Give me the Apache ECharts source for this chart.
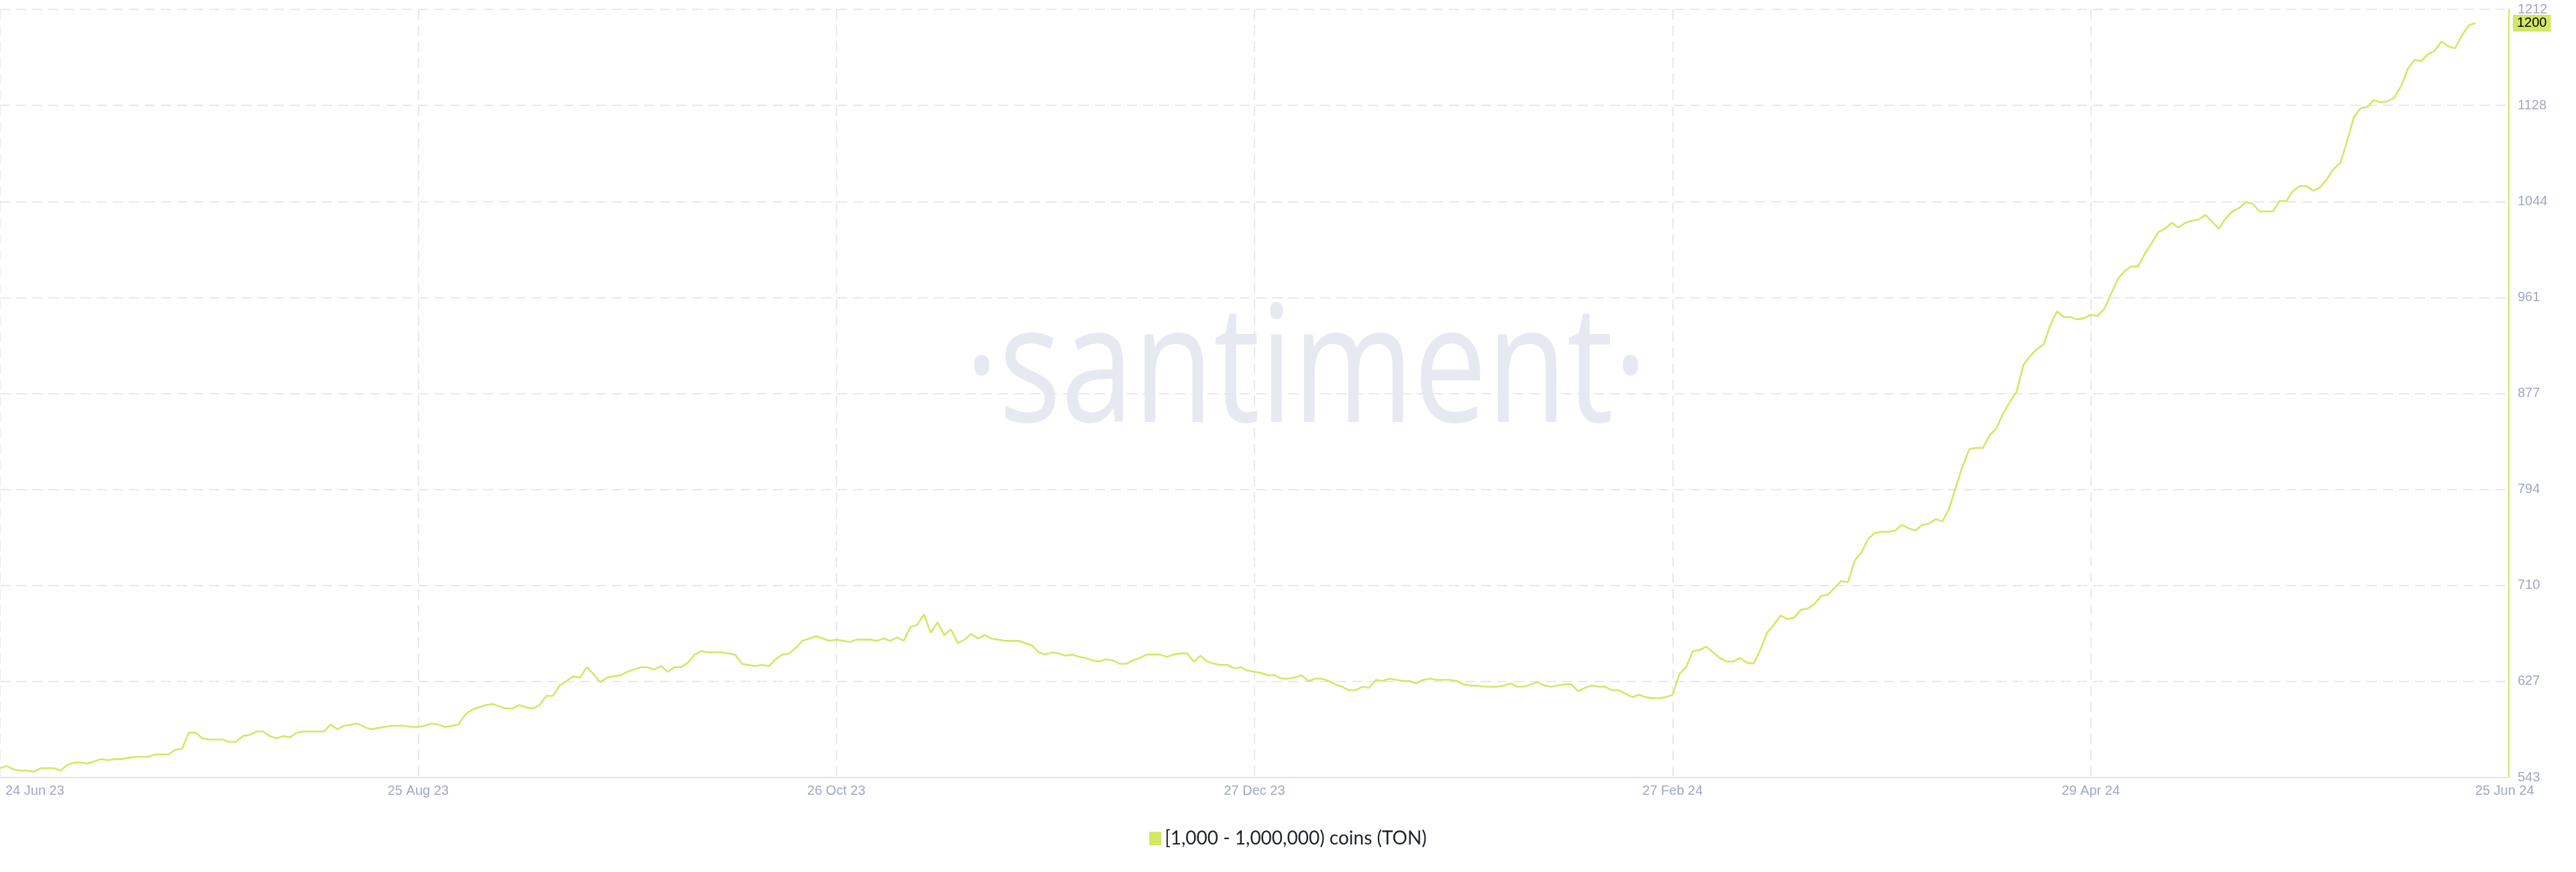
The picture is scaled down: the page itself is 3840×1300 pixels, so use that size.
<!DOCTYPE html>
<html>
<head>
<meta charset="utf-8">
<script src="https://cdn.jsdelivr.net/npm/echarts@6/dist/echarts.min.js"></script>
<style>
html,body{margin:0;padding:0;background:#ffffff;}
#chart{width:3840px;height:1300px;}
</style>
</head>
<body>
<div id="chart"></div>
<script>
// ---------- data ----------
const seriesName = '[1,000 - 1,000,000) coins (TON)';
const startDate = '2023-06-24'; // first daily value
const values = [
  551, 553, 550, 549, 549, 548, 551, 551, 551, 549,
  554, 556, 556, 555, 557, 559, 558, 559, 559, 560,
  561, 561, 561, 563, 563, 563, 567, 568, 582, 582,
  577, 576, 576, 576, 574, 574, 579, 580, 583, 583,
  579, 577, 579, 578, 582, 583, 583, 583, 583, 589,
  585, 588, 589, 590, 587, 585, 586, 587, 588, 588,
  588, 587, 587, 588, 590, 589, 587, 588, 589, 598,
  602, 604, 606, 607, 605, 603, 603, 606, 604, 603,
  606, 614, 614, 623, 627, 631, 630, 639, 633, 626,
  630, 631, 632, 635, 637, 639,
  639, 637, 640, 635, 639, 639, 643, 650, 653, 652,
  652, 652, 651, 650, 642, 641, 640, 641, 640, 646,
  650, 651, 656, 662, 664, 666, 664, 662, 663, 662,
  661, 663, 663, 663, 662, 664, 662, 665, 662, 674,
  676, 685, 669, 678, 667, 672, 660, 663, 668, 664,
  667, 664, 663, 662, 662, 662, 660, 658, 652, 650,
  652, 651, 649, 650, 648, 647, 645, 644, 646, 645,
  642, 642, 645, 647, 650, 650, 650, 648, 650, 651,
  651, 644, 649, 644, 642, 641, 641, 638, 639, 636,
  635, 634, 632, 632, 629,
  629, 630, 632, 627, 629, 629, 627, 624, 622, 619,
  619, 622, 621, 628, 627, 629, 628, 627, 627, 625,
  628, 629, 628, 628, 628, 627, 624, 623, 623, 622,
  622, 622, 623, 625, 622, 622, 624, 626, 623, 622,
  623, 624, 624, 618, 621, 623, 622, 622, 619, 619,
  616, 613, 615, 613, 612, 612, 613, 615, 633, 639,
  653, 654, 657, 652, 647, 644, 644, 647, 643, 642,
  654, 669, 676, 684, 681, 682, 689, 690, 694, 701,
  702, 708, 714, 713, 732, 739, 751, 756, 757, 757,
  758, 763, 760, 758, 763, 764,
  768, 766, 777, 796, 814, 829, 830, 830, 841, 847, 860, 870,
  879, 902, 910, 916, 920, 937, 949, 944, 944, 942,
  943, 946, 945, 951, 964, 977, 984, 988, 988, 999,
  1008, 1018, 1021, 1026, 1022, 1026, 1028, 1029, 1033, 1027,
  1021, 1030, 1036, 1039, 1044, 1043, 1036, 1036, 1036, 1045,
  1045, 1054, 1058, 1058, 1054, 1057, 1064, 1073, 1078, 1097,
  1118, 1126, 1127, 1133, 1131, 1132, 1135, 1145, 1160, 1168,
  1167, 1173, 1176, 1184, 1180, 1178, 1189, 1198, 1200
];
const xLabelDates = ['2023-06-24', '2023-08-25', '2023-10-26', '2023-12-27', '2024-02-27', '2024-04-29', '2024-06-25'];
const xLabelTexts = ['24 Jun 23', '25 Aug 23', '26 Oct 23', '27 Dec 23', '27 Feb 24', '29 Apr 24', '25 Jun 24'];
const xGridDates = ['2023-06-24', '2023-08-25', '2023-10-26', '2023-12-27', '2024-02-27', '2024-04-29'];
const xAxisMin = '2023-06-24';
const xAxisMax = '2024-06-30';
const yMin = 543;
const yMax = 1212;
const yTickValues = [543, 626.625, 710.25, 793.875, 877.5, 961.125, 1044.75, 1128.375, 1212];
const yTickLabels = ['543', '627', '710', '794', '877', '961', '1044', '1128', '1212'];

// ---------- build ----------
const DAY = 86400000;
const t0 = Date.parse(startDate);
const seriesData = values.map((v, i) => [t0 + i * DAY, v]);
const lastValue = values[values.length - 1];
const lineColor = '#d2e764';
const labelColor = '#9fa7c4';
const gridColor = '#e7e8ee';
const labelFont = '"Liberation Sans", Arial, sans-serif';

const chart = echarts.init(document.getElementById('chart'), null, {renderer: 'canvas'});
const option = {
  animation: false,
  backgroundColor: '#ffffff',
  grid: {left: 0, right: 100, top: 14, bottom: 141, containLabel: false, outerBoundsMode: 'none'},
  graphic: [{
    type: 'text',
    x: 1947,
    y: 560,
    scaleX: 0.8,
    z: -10,
    silent: true,
    style: {
      text: '\u00b7santiment\u00b7',
      fill: '#e6e9f2',
      fontFamily: '"Open Sans"',
      fontSize: 243,
      align: 'center',
      verticalAlign: 'middle'
    }
  }],
  legend: {
    show: true,
    left: 'center',
    top: 1231,
    itemWidth: 18,
    itemHeight: 20,
    icon: 'rect',
    data: [{name: seriesName, icon: 'rect'}],
    textStyle: {fontSize: 28, fontFamily: 'Lato', color: '#1e222b'}
  },
  xAxis: {
    type: 'value',
    min: Date.parse(xAxisMin),
    max: Date.parse(xAxisMax),
    axisLine: {show: true, onZero: false, lineStyle: {color: '#e6e6ea', width: 2}},
    axisTick: {show: false, customValues: xGridDates.map(d => Date.parse(d))},
    splitLine: {show: true, lineStyle: {color: gridColor, width: 2, type: [15, 9]}},
    axisLabel: {
      customValues: xLabelDates.map(d => Date.parse(d)),
      alignMinLabel: 'left',
      alignMaxLabel: 'left',
      margin: 10,
      color: labelColor,
      fontSize: 20,
      fontFamily: labelFont,
      formatter: function (v) {
        const i = xLabelDates.findIndex(d => Math.abs(Date.parse(d) - v) < DAY / 2);
        if (i === 0) return '{first|' + xLabelTexts[i] + '}';
        return i >= 0 ? xLabelTexts[i] : '';
      },
      rich: {
        first: {padding: [0, 0, 0, 8], color: labelColor, fontSize: 20, fontFamily: labelFont}
      }
    }
  },
  yAxis: {
    type: 'value',
    position: 'right',
    min: yMin,
    max: yMax,
    axisLine: {show: true, lineStyle: {color: lineColor, width: 2}},
    axisTick: {show: false, customValues: yTickValues},
    splitLine: {show: true, lineStyle: {color: gridColor, width: 2, type: [15, 9]}},
    axisLabel: {
      customValues: yTickValues,
      margin: 13,
      color: labelColor,
      fontSize: 20,
      fontFamily: labelFont,
      formatter: function (v) {
        let best = 0;
        for (let i = 1; i < yTickValues.length; i++) {
          if (Math.abs(yTickValues[i] - v) < Math.abs(yTickValues[best] - v)) best = i;
        }
        return yTickLabels[best];
      }
    }
  },
  series: [{
    name: seriesName,
    type: 'line',
    data: seriesData,
    showSymbol: false,
    symbol: 'none',
    z: 5,
    color: lineColor,
    itemStyle: {color: lineColor},
    lineStyle: {color: lineColor, width: 2.6},
    markLine: {
      silent: true,
      symbol: ['none', 'none'],
      animation: false,
      lineStyle: {color: 'rgba(0,0,0,0)', width: 1, type: 'solid'},
      label: {
        show: true,
        position: 'end',
        distance: 6,
        formatter: String(lastValue),
        backgroundColor: lineColor,
        color: '#000000',
        fontSize: 20,
        fontFamily: labelFont,
        padding: [3, 6, 2, 6]
      },
      data: [{yAxis: lastValue}]
    }
  }]
};
chart.setOption(option);
</script>
</body>
</html>
